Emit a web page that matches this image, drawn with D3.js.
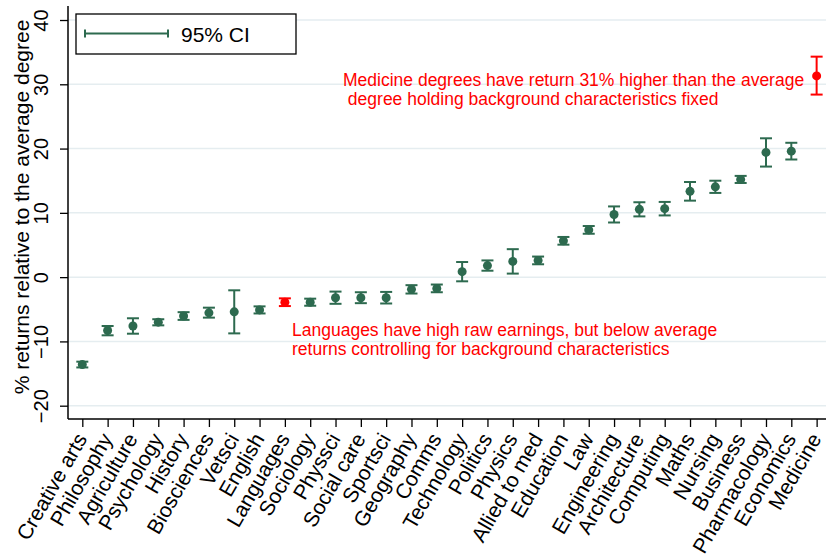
<!DOCTYPE html>
<html>
<head>
<meta charset="utf-8">
<script src="https://cdn.jsdelivr.net/npm/d3@7"></script>
<style>
  html, body { margin: 0; padding: 0; background: #fff; }
  svg { display: block; }
  text { font-family: "Liberation Sans", Arial, Helvetica, sans-serif; }
</style>
</head>
<body>
<svg id="chart" width="826" height="554"></svg>
<script>
// Degree subjects, ordered by estimated return
const subjects = ["Creative arts", "Philosophy", "Agriculture", "Psychology", "History",
  "Biosciences", "Vetsci", "English", "Languages", "Sociology", "Physsci", "Social care",
  "Sportsci", "Geography", "Comms", "Technology", "Politics", "Physics", "Allied to med",
  "Education", "Law", "Engineering", "Architecture", "Computing", "Maths", "Nursing",
  "Business", "Pharmacology", "Economics", "Medicine"];

// Point estimates (% return relative to the average degree)
const estimate = [-13.6, -8.3, -7.6, -7.0, -6.05, -5.55, -5.4, -5.1, -3.9, -3.9, -3.2, -3.2,
  -3.2, -1.9, -1.75, 0.85, 1.8, 2.45, 2.6, 5.65, 7.35, 9.75, 10.55, 10.65, 13.35, 14.05,
  15.2, 19.4, 19.6, 31.3];

// 95% confidence interval bounds
const ciLow = [-14.05, -9.05, -8.8, -7.5, -6.65, -6.3, -8.75, -5.65, -4.5, -4.45, -4.15, -4.05,
  -4.1, -2.55, -2.35, -0.65, 1.0, 0.55, 2.0, 5.05, 6.75, 8.5, 9.45, 9.6, 11.9, 13.1,
  14.65, 17.2, 18.3, 28.4];
const ciHigh = [-13.15, -7.6, -6.4, -6.55, -5.45, -4.75, -2.05, -4.55, -3.3, -3.35, -2.25, -2.35,
  -2.3, -1.25, -1.15, 2.35, 2.6, 4.35, 3.2, 6.25, 7.95, 11.0, 11.65, 11.7, 14.8, 15.0,
  15.75, 21.6, 20.9, 34.3];

// Subjects singled out in the annotations
const highlighted = ["Languages", "Medicine"];

const yTicks = [-20, -10, 0, 10, 20, 30, 40];

const annotations = [
  { lines: ["Medicine degrees have return 31% higher than the average",
            " degree holding background characteristics fixed"], x: 343, y: 85.5 },
  { lines: ["Languages have high raw earnings, but below average",
            "returns controlling for background characteristics"], x: 292, y: 335.5 }
];

const GREEN = "#2d6a4f";
const RED = "#ff0000";

const svg = d3.select("#chart");
const plot = { left: 68, right: 826, top: 6, bottom: 419 };

const x = d3.scaleLinear().domain([0.435, 30.37]).range([plot.left, plot.right]);
const y = d3.scaleLinear().domain([-22.07, 42.18]).range([plot.bottom, plot.top]);

// Horizontal grid lines
svg.append("g")
  .selectAll("line")
  .data(yTicks)
  .join("line")
  .attr("x1", plot.left).attr("x2", plot.right)
  .attr("y1", d => y(d)).attr("y2", d => y(d))
  .attr("stroke", "#e5edf0").attr("stroke-width", 1.5);

// Y axis with vertical tick labels
const yAxis = svg.append("g")
  .attr("transform", `translate(${plot.left},0)`)
  .call(d3.axisLeft(y).tickValues(yTicks).tickSize(8).tickSizeOuter(0).tickFormat(d3.format("d")));
yAxis.select(".domain").attr("stroke", "#000").attr("stroke-width", 1.5)
  .attr("d", `M0,${plot.top}V${plot.bottom}`);
yAxis.selectAll(".tick line").attr("stroke", "#000").attr("stroke-width", 1.3);
yAxis.selectAll(".tick text")
  .attr("transform", "rotate(-90)")
  .attr("x", 0).attr("y", -20).attr("dy", 0)
  .attr("text-anchor", "middle")
  .attr("fill", "#000")
  .style("font-size", "20px");

// X axis with slanted subject labels
const xAxis = svg.append("g")
  .attr("transform", `translate(0,${plot.bottom})`)
  .call(d3.axisBottom(x).tickValues(d3.range(1, subjects.length + 1)).tickSize(8).tickSizeOuter(0)
    .tickFormat(i => subjects[i - 1]));
xAxis.select(".domain").attr("stroke", "#000").attr("stroke-width", 1.5)
  .attr("d", `M${plot.left},0H${plot.right}`);
xAxis.selectAll(".tick line").attr("stroke", "#000").attr("stroke-width", 1.3);
xAxis.selectAll(".tick text")
  .attr("y", 0).attr("dy", 0)
  .attr("transform", "translate(5,19.7) rotate(-60)")
  .attr("text-anchor", "end")
  .attr("fill", "#000")
  .style("font-size", "21px");

// Y axis title
svg.append("text")
  .attr("transform", "translate(29,207) rotate(-90)")
  .attr("text-anchor", "middle")
  .style("font-size", "21px")
  .attr("fill", "#000")
  .text("% returns relative to the average degree");

// Confidence intervals and point estimates
const rows = subjects.map((s, i) => ({
  name: s, idx: i + 1, est: estimate[i], lo: ciLow[i], hi: ciHigh[i],
  color: highlighted.includes(s) ? RED : GREEN
}));

const capHalf = 6;
const marks = svg.append("g").selectAll("g").data(rows).join("g")
  .attr("stroke", d => d.color).attr("fill", d => d.color);
marks.append("line")
  .attr("x1", d => x(d.idx)).attr("x2", d => x(d.idx))
  .attr("y1", d => y(d.lo)).attr("y2", d => y(d.hi))
  .attr("stroke-width", 2);
marks.append("line")
  .attr("x1", d => x(d.idx) - capHalf).attr("x2", d => x(d.idx) + capHalf)
  .attr("y1", d => y(d.lo)).attr("y2", d => y(d.lo))
  .attr("stroke-width", 2);
marks.append("line")
  .attr("x1", d => x(d.idx) - capHalf).attr("x2", d => x(d.idx) + capHalf)
  .attr("y1", d => y(d.hi)).attr("y2", d => y(d.hi))
  .attr("stroke-width", 2);
marks.append("circle")
  .attr("cx", d => x(d.idx)).attr("cy", d => y(d.est))
  .attr("r", 4.5).attr("stroke", "none");

// Red annotations
annotations.forEach(a => {
  const t = svg.append("text")
    .attr("x", a.x).attr("y", a.y)
    .attr("fill", RED)
    .style("font-size", "17.5px")
    .style("white-space", "pre");
  a.lines.forEach((ln, k) => {
    t.append("tspan").attr("x", a.x).attr("dy", k === 0 ? 0 : 19).text(ln);
  });
});

// Legend
const legend = svg.append("g").attr("transform", "translate(76,14)");
legend.append("rect")
  .attr("width", 220).attr("height", 40)
  .attr("fill", "#fff").attr("stroke", "#000").attr("stroke-width", 1.3);
const ly = 19.5;
legend.append("line").attr("x1", 9).attr("x2", 92).attr("y1", ly).attr("y2", ly)
  .attr("stroke", GREEN).attr("stroke-width", 2);
[9, 92].forEach(cx => legend.append("line")
  .attr("x1", cx).attr("x2", cx).attr("y1", ly - 4).attr("y2", ly + 4)
  .attr("stroke", GREEN).attr("stroke-width", 2));
legend.append("text")
  .attr("x", 105).attr("y", 27.5)
  .style("font-size", "21px")
  .attr("fill", "#000")
  .text("95% CI");
</script>
</body>
</html>
